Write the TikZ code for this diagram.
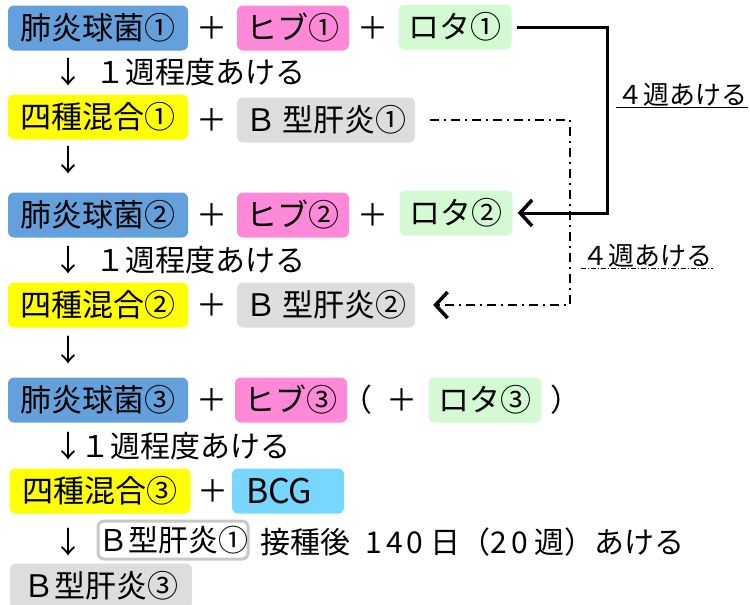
\documentclass[tikz,border=0pt]{standalone}
\usepackage{fontspec}
\setmainfont{Noto Sans CJK JP}
\usetikzlibrary{arrows.meta}
\definecolor{haienblue}{RGB}{99,160,220}
\definecolor{hibpink}{RGB}{255,136,216}
\definecolor{rotagreen}{RGB}{212,250,212}
\definecolor{shishuyellow}{RGB}{255,255,0}
\definecolor{bkangray}{RGB}{221,221,221}
\definecolor{bcgcyan}{RGB}{119,215,255}
\definecolor{rimgray}{RGB}{200,200,200}
\newcommand{\BoxFont}{\fontsize{31}{36}\selectfont}
\newcommand{\NoteFont}{\fontsize{30}{34}\selectfont}
\newcommand{\GapFont}{\fontsize{26}{30}\selectfont}
\newcommand{\WideDigits}[1]{{\addfontfeature{LetterSpace=14}#1}}
\newcommand{\PlusAt}[2]{\node[plus](#1) at (#2){＋};}
\newcommand{\DownAt}[2]{\node[down](#1) at (#2){↓};}

\begin{document}
\begin{tikzpicture}[
    x=1pt, y=-1pt,
    >={Straight Barb[length=12pt, width=26pt, line width=3.5pt]},
    vbox/.style={rounded corners=6pt, minimum height=45pt, inner sep=0pt, font=\BoxFont},
    haien/.style={vbox, fill=haienblue, minimum width=180pt},
    hib/.style={vbox, fill=hibpink, minimum width=112pt},
    rota/.style={vbox, fill=rotagreen, minimum width=113pt},
    shishu/.style={vbox, fill=shishuyellow, minimum width=180pt},
    bkan/.style={vbox, fill=bkangray, minimum width=178pt},
    bcg/.style={vbox, fill=bcgcyan, text width=84pt, align=left, inner xsep=14pt},
    plus/.style={font=\BoxFont, inner sep=0pt},
    down/.style={font=\NoteFont, inner sep=0pt},
    note/.style={font=\NoteFont, inner sep=0pt, anchor=west},
    gapnote/.style={font=\GapFont, inner sep=1pt},
    conn/.style={line width=3pt, shorten <=5pt, shorten >=5pt},
    dconn/.style={line width=2.2pt, dash pattern=on 9pt off 5pt on 2pt off 5pt}
    ]

    \useasboundingbox (0,0) rectangle (750,605);

    % first round
    \node[haien] (haien1) at (98,28) {肺炎球菌①};
    \PlusAt{p1a}{212,28}
    \node[hib] (hib1) at (293,28) {ヒブ①};
    \PlusAt{p1b}{373,28}
    \node[rota] (rota1) at (455,27) {ロタ①};
    \DownAt{d1}{68,72}
    \node[note] (w1) at (95,72) {１週程度あける};

    \node[shishu] (shishu1) at (98,117) {四種混合①};
    \PlusAt{p2}{212,120}
    \node[bkan] (bkan1) at (326,120) {Ｂ 型肝炎①};
    \DownAt{d2}{68,160}

    % second round
    \node[haien] (haien2) at (98,215) {肺炎球菌②};
    \PlusAt{p3a}{212,215}
    \node[hib] (hib2) at (293,215) {ヒブ②};
    \PlusAt{p3b}{373,215}
    \node[rota] (rota2) at (456,213) {ロタ②};
    \DownAt{d3}{68,260}
    \node[note] (w3) at (95,260) {１週程度あける};

    \node[shishu] (shishu2) at (98,305) {四種混合②};
    \PlusAt{p4}{212,305}
    \node[bkan] (bkan2) at (326,305) {Ｂ 型肝炎②};
    \DownAt{d4}{68,350}

    % third round
    \node[haien] (haien3) at (98,400) {肺炎球菌③};
    \PlusAt{p5a}{212,400}
    \node[hib] (hib3) at (291,400) {ヒブ③};
    \node[plus] (po) at (357,400) {（};
    \PlusAt{p5b}{402,400}
    \node[rota] (rota3) at (485,400) {ロタ③};
    \node[plus] (pc) at (566,400) {）};
    \DownAt{d6}{68,446}
    \node[note] (w6) at (80,446) {１週程度あける};

    \node[shishu, minimum width=181pt] (shishu3) at (100,491) {四種混合③};
    \PlusAt{p7}{213,491}
    \node[bcg] (bcg) at (288,491) {\fontsize{34}{38}\selectfont BCG};

    \DownAt{d8}{68,542}
    \node[vbox, draw=rimgray, line width=3pt, fill=white, minimum width=150pt,
          minimum height=38pt, font=\NoteFont] (hbref) at (173,540) {Ｂ型肝炎①};
    \node[note] (w8) at (260,542) {接種後\enspace\WideDigits{140}\ 日（\WideDigits{20}\ 週）あける};

    \node[bkan, minimum width=182pt] (bkan3) at (101,586) {Ｂ型肝炎③};

    % four-week gaps
    \coordinate (solidjog) at (607,0);
    \coordinate (dashjog) at (570,0);
    \draw[conn, ->] (rota1.east) -| (solidjog |- rota2.east) -- (rota2.east);
    \draw[dconn, ->, shorten <=15pt, shorten >=18pt] (bkan1.east) -| (dashjog |- bkan2.east) -- (bkan2.east);

    \node[gapnote] (gap1) at (682,95) {４週あける};
    \draw[line width=1.2pt] (gap1.south west) -- (gap1.south east);
    \node[gapnote] (gap2) at (647,256) {４週あける};
    \draw[line width=0.8pt, dash pattern=on 5pt off 2pt on 1pt off 2pt] (gap2.south west) -- (gap2.south east);

\end{tikzpicture}
\end{document}
